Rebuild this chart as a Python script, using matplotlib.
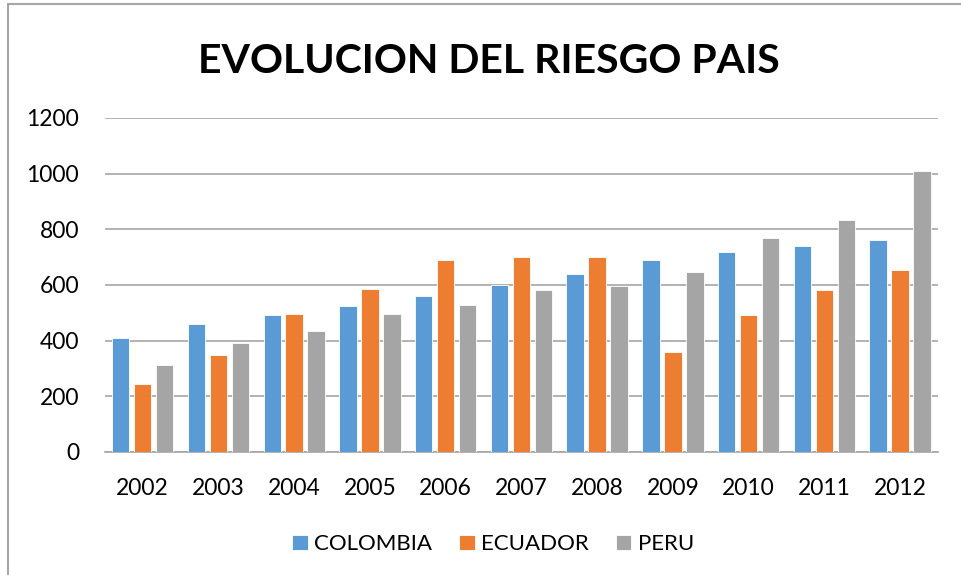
import matplotlib.pyplot as plt
import numpy as np
from matplotlib.patches import Rectangle

years = ['2002', '2003', '2004', '2005', '2006', '2007', '2008', '2009', '2010', '2011', '2012']
colombia = [410, 459, 492, 526, 560, 600, 638, 690, 717, 738, 762]
ecuador = [243, 347, 495, 587, 688, 701, 700, 360, 492, 580, 655]
peru = [311, 392, 436, 494, 528, 582, 596, 648, 769, 834, 1010]

plt.rcParams['font.family'] = ['Lato', 'DejaVu Sans']

fig = plt.figure(figsize=(9.62, 5.75), dpi=100)
ax = fig.add_axes([0.109, 0.214, 0.866, 0.581])

x = np.arange(len(years))
w = 0.23
step = 0.29
ax.bar(x - step, colombia, w, color='#5B9BD5', label='COLOMBIA', edgecolor='white', linewidth=0.6, zorder=3)
ax.bar(x, ecuador, w, color='#ED7D31', label='ECUADOR', edgecolor='white', linewidth=0.6, zorder=3)
ax.bar(x + step, peru, w, color='#A5A5A5', label='PERU', edgecolor='white', linewidth=0.6, zorder=3)

ax.set_xlim(-0.5, len(years) - 0.5)
ax.set_ylim(0, 1200)
ax.set_yticks(range(0, 1201, 200))
ax.set_xticks(x)
ax.set_xticklabels(years)
ax.grid(axis='y', color='#a6a6a6', linewidth=1.2, zorder=0)
for s in ['top', 'right', 'left']:
    ax.spines[s].set_visible(False)
ax.spines['bottom'].set_color('#a6a6a6')
ax.spines['bottom'].set_linewidth(1.2)
ax.tick_params(axis='both', length=0, labelsize=16.5)
ax.tick_params(axis='x', pad=19)
ax.tick_params(axis='y', pad=18.5)

fig.text(0.508, 0.893, 'EVOLUCION DEL RIESGO PAIS', ha='center', va='center',
         fontsize=29.5, fontweight='bold')

ax.legend(loc='center', bbox_to_anchor=(0.466, -0.277), ncol=3, frameon=False,
          fontsize=16, handlelength=0.7, handleheight=0.7, handletextpad=0.3,
          columnspacing=1.2)

# chart border
fig.patches.append(Rectangle((0.008, -0.01), 1.1, 1.003, transform=fig.transFigure,
                             fill=False, edgecolor='#a6a6a6', linewidth=1.5))

plt.savefig('out.png', dpi=100)
